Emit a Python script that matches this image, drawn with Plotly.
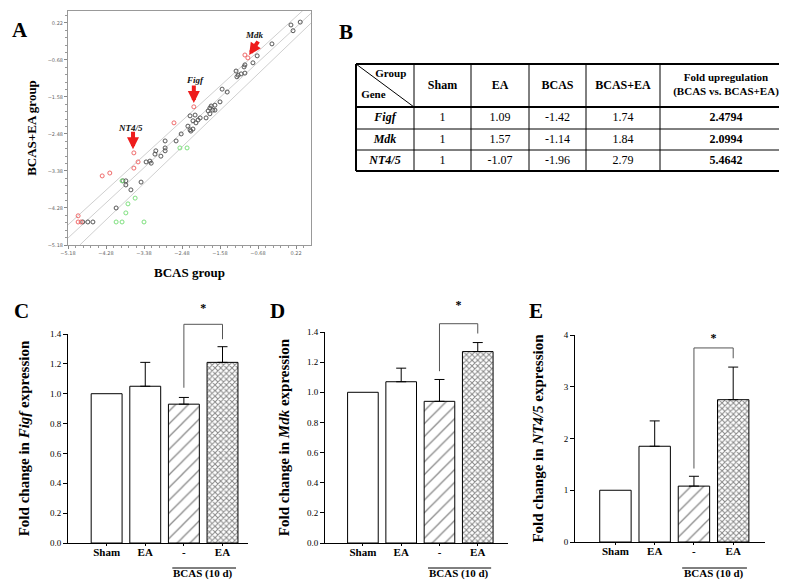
import plotly.graph_objects as go

SERIF = "Liberation Serif, Times New Roman, serif"
W, H = 787, 581

# ---------------- Panel A: scatter, log expression BCAS vs BCAS+EA
ns_x = [0.10, 0.32, 0.15, -0.35, -0.70, -0.80, -0.99, -1.01, -1.20, -1.15, -1.18, -1.08, -0.99,
        -1.53, -1.41, -1.58, -1.70, -1.79, -1.82, -1.75, -1.86, -1.82, -1.70, -1.91, -2.05, -2.10,
        -2.17, -2.29, -2.22, -2.34, -2.29, -2.22, -2.27, -2.15, -2.50, -2.62, -2.88, -2.88, -2.88,
        -3.10, -3.12, -2.98, -3.24, -3.33, -3.21, -3.81, -3.88, -3.81, -3.69, -3.45, -4.04, -4.83,
        -4.71, -4.59]
ns_y = [0.17, 0.24, 0.03, -0.29, -0.58, -0.75, -0.80, -0.85, -0.95, -1.05, -1.09, -1.02, -1.00,
        -1.39, -1.46, -1.70, -1.78, -1.80, -1.85, -1.90, -1.92, -1.99, -1.90, -2.09, -2.09, -2.14,
        -2.02, -2.04, -2.16, -2.29, -2.38, -2.36, -2.41, -2.21, -2.48, -2.65, -2.65, -2.82, -2.89,
        -2.89, -2.97, -3.02, -3.14, -3.16, -3.19, -3.62, -3.62, -3.72, -3.84, -3.65, -4.28, -4.62,
        -4.62, -4.62]
up_x = [-0.99, -0.92, -2.20, -2.67, -3.62, -3.52, -3.62, -4.19, -4.37, -4.94, -4.94, -4.87]
up_y = [-0.56, -0.63, -1.82, -2.21, -2.94, -3.16, -3.31, -3.43, -3.50, -4.47, -4.62, -4.62]
down_x = [-2.53, -2.36, -3.90, -3.59, -3.76, -3.81, -4.04, -3.90, -3.38]
down_y = [-2.82, -2.82, -3.62, -4.04, -4.18, -4.40, -4.62, -4.62, -4.62]

# fold-change guide lines (start / end points)
guide_x0 = [-5.18, -5.18, -4.90]
guide_y0 = [-4.69, -5.01, -5.18]
guide_x1 = [0.39, 0.58, 0.58]
guide_y1 = [0.53, 0.46, 0.22]

gene_names = ["NT4/5", "Figf", "Mdk"]
gene_tip_x = [-3.64, -2.20, -0.89]
gene_tip_y = [-2.85, -1.73, -0.56]
gene_lab_x = [-3.71, -2.17, -0.77]
gene_lab_y = [-2.33, -1.17, -0.07]
arrow_ax = [0, 0, 10]
arrow_ay = [-19, -19, -15]

# ---------------- Panel B: table
tab_groups = ["Sham", "EA", "BCAS", "BCAS+EA"]
tab_genes = ["Figf", "Mdk", "NT4/5"]
tab_sham = ["1", "1", "1"]
tab_ea = ["1.09", "1.57", "-1.07"]
tab_bcas = ["-1.42", "-1.14", "-1.96"]
tab_bcas_ea = ["1.74", "1.84", "2.79"]
tab_fold = ["2.4794", "2.0994", "5.4642"]
col_widths = [58, 57, 58, 57, 74, 132]
row_heights = [43, 22, 21, 21]

# ---------------- Panels C-E: qPCR bars (Sham is the reference, no error bar)
bar_labels = ["Sham", "EA", "-", "EA"]
figf_mean = [1.0, 1.05, 0.93, 1.21]
figf_err = [0, 0.16, 0.045, 0.105]
mdk_mean = [1.0, 1.07, 0.94, 1.27]
mdk_err = [0, 0.09, 0.145, 0.06]
nt45_mean = [1.0, 1.85, 1.08, 2.75]
nt45_err = [0, 0.49, 0.19, 0.63]
# significance bracket: left foot, top, right foot, star
figf_sig = [1.04, 1.465, 1.365, 1.57]
mdk_sig = [1.14, 1.455, 1.39, 1.57]
nt45_sig = [1.42, 3.75, 3.55, 3.93]


def px(x):
    return x / W


def py(y):
    return 1 - y / H


fig = go.Figure()

# guide lines
for i in range(3):
    fig.add_trace(go.Scatter(
        x=[guide_x0[i], guide_x1[i]], y=[guide_y0[i], guide_y1[i]],
        mode="lines", line=dict(color="#cfcfcf", width=1),
        xaxis="x", yaxis="y", showlegend=False,
    ))
for xs, ys, col in [(ns_x, ns_y, "#555555"), (up_x, up_y, "#f06a6a"), (down_x, down_y, "#7ee07e")]:
    fig.add_trace(go.Scatter(
        x=xs, y=ys, mode="markers",
        marker=dict(symbol="circle-open", size=4, color=col, line=dict(width=1)),
        xaxis="x", yaxis="y", showlegend=False,
    ))

annotations = []
for i, g in enumerate(gene_names):
    annotations.append(dict(
        x=gene_tip_x[i], y=gene_tip_y[i], xref="x", yref="y", text="",
        showarrow=True, ax=arrow_ax[i], ay=arrow_ay[i],
        arrowcolor="#ee1c1c", arrowwidth=4, arrowhead=2, arrowsize=0.6,
    ))
    annotations.append(dict(
        x=gene_lab_x[i], y=gene_lab_y[i], xref="x", yref="y",
        text=f"<b><i>{g}</i></b>", showarrow=False,
        font=dict(family=SERIF, size=9, color="#111"),
    ))

# ---------------- table drawn on its own hidden axes (units = px)
tw = sum(col_widths)
th = sum(row_heights)
col_edges = [sum(col_widths[:i]) for i in range(len(col_widths) + 1)]
row_edges = [sum(row_heights[:i]) for i in range(len(row_heights) + 1)]
col_mid = [(col_edges[i] + col_edges[i + 1]) / 2 for i in range(len(col_widths))]
row_mid = [(row_edges[i] + row_edges[i + 1]) / 2 for i in range(len(row_heights))]
shapes = []
for i, e in enumerate(col_edges):
    w = 2 if i in (0, len(col_edges) - 1) else 1
    shapes.append(dict(type="line", xref="x8", yref="y8", x0=e, x1=e, y0=0, y1=th,
                       line=dict(color="black", width=w)))
for i, e in enumerate(row_edges):
    w = 2 if i in (0, 1, len(row_edges) - 1) else 1
    shapes.append(dict(type="line", xref="x8", yref="y8", x0=0, x1=tw, y0=e, y1=e,
                       line=dict(color="black", width=w)))
shapes.append(dict(type="line", xref="x8", yref="y8", x0=0, x1=col_edges[1], y0=0, y1=row_edges[1],
                   line=dict(color="black", width=1)))

head_txt = [f"<b>{g}</b>" for g in tab_groups] + ["<b>Fold upregulation<br>(BCAS vs. BCAS+EA)</b>"]
fig.add_trace(go.Scatter(
    x=col_mid[1:], y=[row_mid[0]] * 5, text=head_txt, mode="text", xaxis="x8", yaxis="y8",
    textfont=dict(family=SERIF, size=[12, 12, 12, 12, 11], color="black"),
    showlegend=False, cliponaxis=False,
))
fig.add_trace(go.Scatter(
    x=[col_widths[0] * 0.6, col_widths[0] * 0.3], y=[row_heights[0] * 0.23, row_heights[0] * 0.72],
    text=["<b>Group</b>", "<b>Gene</b>"], mode="text", xaxis="x8", yaxis="y8",
    textfont=dict(family=SERIF, size=11, color="black"), showlegend=False, cliponaxis=False,
))
body_cols = [[f"<b><i>{g}</i></b>" for g in tab_genes], tab_sham, tab_ea, tab_bcas, tab_bcas_ea,
             [f"<b>{v}</b>" for v in tab_fold]]
for c, col in enumerate(body_cols):
    fig.add_trace(go.Scatter(
        x=[col_mid[c]] * 3, y=row_mid[1:], text=col, mode="text", xaxis="x8", yaxis="y8",
        textfont=dict(family=SERIF, size=12, color="black"), showlegend=False, cliponaxis=False,
    ))

# ---------------- bar panels
panels = [
    ("2", "5", figf_mean, figf_err, figf_sig, "Figf", [px(60), px(240)], [py(535), py(326)],
     [-1.0, 3.66], [0, 1.4], 0.2, ".1f", 16),
    ("3", "6", mdk_mean, mdk_err, mdk_sig, "Mdk", [px(317), px(500)], [py(535), py(324)],
     [-0.99, 3.79], [0, 1.4], 0.2, ".1f", 13),
    ("4", "7", nt45_mean, nt45_err, nt45_sig, "NT4/5", [px(567), px(757)], [py(534), py(327)],
     [-1.03, 3.81], [0, 4], 1, "d", 16),
]
cats = [0, 1, 2, 3]
shape_list = ["", "", "/", "x"]
size_list = [6, 6, 9, 4]
sol_list = [0.1, 0.1, 0.14, 0.45]
layout_axes = {}
for n, b, mean, err, sig, gene, xdom, ydom, xr, yr, dt, fmt, stand in panels:
    # Sham bar alone (no error bar), the three treated groups with SEM
    for sl, with_err in [(slice(0, 1), False), (slice(1, 4), True)]:
        fig.add_trace(go.Bar(
            x=cats[sl], y=mean[sl], width=0.8, xaxis="x" + n, yaxis="y" + n, showlegend=False,
            marker=dict(color="white", line=dict(color="black", width=1),
                        pattern=dict(shape=shape_list[sl], fgcolor="#111", bgcolor="white",
                                     size=size_list[sl], solidity=sol_list[sl])),
            error_y=dict(type="data", symmetric=False, array=err[sl], arrayminus=[0] * len(err[sl]),
                         color="black", thickness=1, width=5, visible=with_err),
        ))
    layout_axes["xaxis" + n] = dict(
        domain=xdom, anchor="y" + n, range=xr, showline=True, linecolor="black", linewidth=1,
        ticks="outside", ticklen=2, tickcolor="black", tickvals=cats, ticklabelstandoff=-3,
        ticktext=[f"<b>{t}</b>" for t in bar_labels], showgrid=False, zeroline=False,
        tickfont=dict(family=SERIF, size=11, color="black"), automargin=False,
    )
    layout_axes["yaxis" + n] = dict(
        domain=ydom, anchor="x" + n, range=yr, showline=True, linecolor="black", linewidth=1,
        ticks="outside", ticklen=4, tickcolor="black", dtick=dt, tickformat=fmt,
        showgrid=False, zeroline=False, automargin=False,
        tickfont=dict(family=SERIF, size=9, color="black"),
        title=dict(text=f"<b>Fold change in <i>{gene}</i> expression</b>", standoff=stand,
                   font=dict(family=SERIF, size=15, color="black")),
    )
    # hidden taller axis with the same units, for the significance bracket
    top = py(285)
    layout_axes["yaxis" + b] = dict(
        domain=[ydom[0], top], anchor="x" + n, visible=False,
        range=[0, yr[1] * (top - ydom[0]) / (ydom[1] - ydom[0])],
    )
    fig.add_trace(go.Scatter(
        x=[2, 2, 3, 3], y=[sig[0], sig[1], sig[1], sig[2]], mode="lines",
        line=dict(color="#555", width=1), xaxis="x" + n, yaxis="y" + b, showlegend=False,
    ))
    fig.add_trace(go.Scatter(
        x=[2.5], y=[sig[3]], mode="text", text=["<b>*</b>"], xaxis="x" + n, yaxis="y" + b,
        textfont=dict(family=SERIF, size=12, color="black"), showlegend=False, cliponaxis=False,
    ))
    shapes.append(dict(type="line", xref="x" + n, yref="paper", x0=1.7, x1=3.35,
                       y0=py(560), y1=py(560), line=dict(color="black", width=1)))
    annotations.append(dict(x=2.5, y=py(574), xref="x" + n, yref="paper",
                            text="<b>BCAS (10 d)</b>", showarrow=False,
                            font=dict(family=SERIF, size=11, color="black")))

# panel letters
for letter, lx, ly in [("A", 12, 22), ("B", 338, 24), ("C", 13, 303), ("D", 269, 303), ("E", 528, 303)]:
    annotations.append(dict(x=px(lx), y=py(ly), xref="paper", yref="paper", text=f"<b>{letter}</b>",
                            xanchor="center", yanchor="middle", showarrow=False,
                            font=dict(family=SERIF, size=21, color="black")))

fig.update_layout(
    width=W, height=H, margin=dict(l=0, r=0, t=0, b=0, autoexpand=False),
    paper_bgcolor="white", plot_bgcolor="rgba(0,0,0,0)", showlegend=False, barmode="overlay",
    xaxis=dict(
        domain=[px(60), px(303)], anchor="y", range=[-5.18, 0.575], automargin=False,
        tick0=-5.18, dtick=0.9, tickformat=".2f", ticks="outside", ticklen=3, tickcolor="#888",
        minor=dict(ticks="outside", ticklen=2, dtick=0.18, tick0=-5.18, tickcolor="#999"),
        showline=True, linecolor="#999", mirror=True, showgrid=False, zeroline=False,
        tickfont=dict(size=5, color="#666", family="DejaVu Sans"),
        title=dict(text="<b>BCAS group</b>", standoff=12, font=dict(family=SERIF, size=13, color="black")),
    ),
    yaxis=dict(
        domain=[py(237), py(3)], anchor="x", range=[-5.18, 0.51], automargin=False,
        tick0=-4.28, dtick=0.9, tickformat=".2f", ticks="outside", ticklen=3, tickcolor="#888",
        minor=dict(ticks="outside", ticklen=2, dtick=0.18, tick0=-4.28, tickcolor="#999"),
        showline=True, linecolor="#999", mirror=True, showgrid=False, zeroline=False,
        tickfont=dict(size=5, color="#666", family="DejaVu Sans"),
        title=dict(text="<b>BCAS+EA group</b>", standoff=8, font=dict(family=SERIF, size=13, color="black")),
    ),
    xaxis8=dict(domain=[px(346), px(786)], anchor="y8", range=[-2, tw + 2], visible=False),
    yaxis8=dict(domain=[py(165), py(54)], anchor="x8", range=[th + 2, -2], visible=False),
    shapes=shapes, annotations=annotations,
    **layout_axes,
)

fig.write_html("out.html")
